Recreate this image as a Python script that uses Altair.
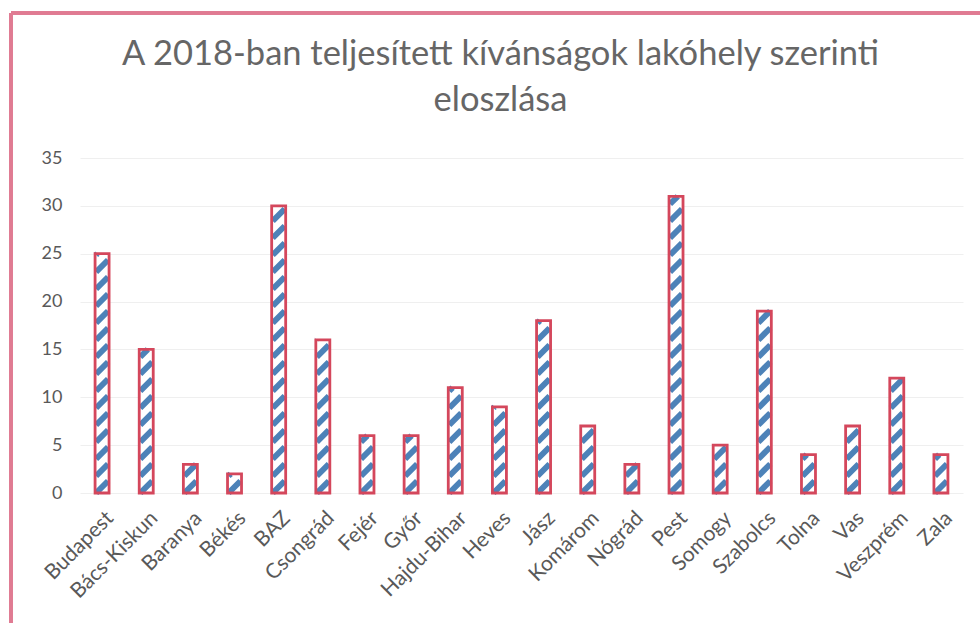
import json
import altair as alt
import pandas as pd

# ---- data ----
categories = ["Budapest", "Bács-Kiskun", "Baranya", "Békés", "BAZ", "Csongrád",
              "Fejér", "Győr", "Hajdu-Bihar", "Heves", "Jász", "Komárom",
              "Nógrád", "Pest", "Somogy", "Szabolcs", "Tolna", "Vas",
              "Veszprém", "Zala"]
counts = [25, 15, 3, 2, 30, 16, 6, 6, 11, 9, 18, 7, 3, 31, 5, 19, 4, 7, 12, 4]
y_ticks = [0, 5, 10, 15, 20, 25, 30, 35]
title_lines = ["A 2018-ban teljesített kívánságok lakóhely szerinti", "eloszlása"]

df = pd.DataFrame({"idx": list(range(len(categories))), "name": categories, "value": counts})

# ---- layout / style ----
W, H = 883, 335
LEFT, TOP = 80, 158
YMAX = 35
RED = "#d4475c"
BLUE = "#4d82b8"
GRAY = "#595959"
FONT = "Lato"

px_x = W / len(categories)
px_y = H / YMAX
BAR_PX = 14
hw = BAR_PX / 2 / px_x
STRIPE_SPAN_PX = 12
hws = STRIPE_SPAN_PX / 2 / px_x
d = STRIPE_SPAN_PX / px_y          # 45 degree stripe rise (data units)
s = 17 / px_y                      # stripe period (data units)

xscale = alt.Scale(domain=[-0.5, len(categories) - 0.5], nice=False, zero=False)
yscale = alt.Scale(domain=[0, YMAX], nice=False)

base = alt.Chart(df).transform_calculate(
    xl=f"datum.idx - {hw}"
).transform_calculate(
    xr=f"datum.idx + {hw}"
)

label_expr = json.dumps(categories, ensure_ascii=False) + "[datum.value]"

fill_bars = base.mark_bar(fill="white", stroke=None).encode(
    x=alt.X("xl:Q", scale=xscale, title=None,
            axis=alt.Axis(values=list(range(len(categories))), labelExpr=label_expr,
                          labelAngle=-45, labelFontSize=21, labelColor=GRAY, labelFont=FONT,
                          labelOverlap=False, domain=False, ticks=False, grid=False,
                          labelPadding=14, title=None)),
    x2="xr:Q",
    y=alt.Y("value:Q", scale=yscale, stack=None, title=None,
            axis=alt.Axis(values=y_ticks, labelFontSize=18, labelColor=GRAY, labelFont=FONT,
                          domain=False, ticks=False, grid=True, gridColor="#efefef",
                          gridWidth=1, labelPadding=18, title=None)),
    y2=alt.datum(0),
)

stripes = alt.Chart(df).transform_calculate(
    k=f"sequence(-1, ceil(datum.value / {s}) + 1)"
).transform_flatten(["k"]).transform_calculate(
    y0=f"datum.k * {s}"
).transform_calculate(
    ya="max(datum.y0, 0)"
).transform_calculate(
    yb=f"min(datum.y0 + {d}, datum.value)"
).transform_filter(
    "datum.ya < datum.yb"
).transform_calculate(
    xa=f"datum.idx - {hws} + (datum.ya - datum.y0) / {d} * {2 * hws}"
).transform_calculate(
    xb=f"datum.idx - {hws} + (datum.yb - datum.y0) / {d} * {2 * hws}"
).mark_rule(color=BLUE, strokeWidth=6, strokeCap="butt").encode(
    x=alt.X("xa:Q", scale=xscale, title=None),
    x2="xb:Q",
    y=alt.Y("ya:Q", scale=yscale, title=None),
    y2="yb:Q",
)

outline = base.mark_bar(fillOpacity=0, stroke=RED, strokeWidth=2.8).encode(
    x=alt.X("xl:Q", scale=xscale, title=None),
    x2="xr:Q",
    y=alt.Y("value:Q", scale=yscale, stack=None, title=None),
    y2=alt.datum(0),
)

border_top = alt.Chart(df).mark_rule(color="#e07b92", strokeWidth=2.5).encode(
    x=alt.value(-LEFT + 11), x2=alt.value(980 - LEFT), y=alt.value(-TOP + 13)
)
border_left = alt.Chart(df).mark_rule(color="#e07b92", strokeWidth=2.5).encode(
    x=alt.value(-LEFT + 11), y=alt.value(-TOP + 13), y2=alt.value(623 - TOP)
)

chart = alt.layer(fill_bars, stripes, outline, border_top, border_left).properties(
    width=W, height=H,
    autosize=alt.AutoSizeParams(type="none"),
    padding={"left": LEFT, "top": TOP, "right": 980 - LEFT - W, "bottom": 623 - TOP - H},
    background="white",
    title=alt.TitleParams(text=title_lines, fontSize=34.5, font=FONT, color="#666666",
                          fontWeight="normal", anchor="middle", frame="group",
                          dx=-21, offset=-107, lineHeight=46),
).configure_view(stroke=None)

chart.save("out.html", embed_options={"renderer": "svg", "actions": False})
